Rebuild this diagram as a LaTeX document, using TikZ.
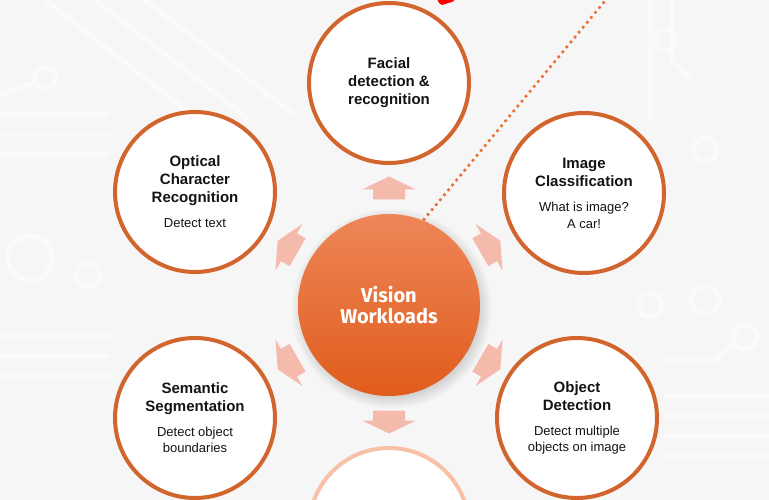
\documentclass[tikz,border=0pt]{standalone}
\usepackage{fontspec}
\setmainfont{Liberation Sans}
\newfontfamily\visionfont{Fira Sans}
\usepackage{tikz}
\usetikzlibrary{positioning,shadows,calc}

\definecolor{ringorange}{RGB}{210,101,45}
\definecolor{ringpeach}{RGB}{246,193,167}
\definecolor{arrowpink}{RGB}{244,187,172}
\definecolor{bggrey}{RGB}{246,246,246}
\definecolor{visiontop}{RGB}{238,134,88}
\definecolor{visionbottom}{RGB}{224,92,28}
\definecolor{dotorange}{RGB}{232,112,52}

\newcommand{\wlsub}[1]{{\mdseries\fontsize{13}{15}\selectfont #1}}

\begin{document}
\begin{tikzpicture}[x=1pt,y=-1pt]
                \tikzstyle{workload}=[circle,draw=ringorange,line width=4pt,fill=white,
                    minimum size=160pt,inner sep=0pt,align=center,
                    font=\fontsize{15}{18}\selectfont\bfseries,text=black!92]
                \tikzstyle{trace}=[white,opacity=0.45,line width=5pt]
                \tikzset{blockarrow/.pic={
                    \fill[arrowpink] (-11.5,-16) -- (-1.5,-16) -- (-1.5,-27) -- (11.5,0)
                        -- (-1.5,27) -- (-1.5,16) -- (-11.5,16) -- cycle;}}

                %% Background with faint circuit traces
                \clip (0,0) rectangle (769,500);
                \fill[bggrey] (0,0) rectangle (769,500);
                \begin{scope}[trace]
                    \draw (45,0) -- (205,125);
                    \draw (95,0) -- (250,120);
                    \draw (145,0) -- (295,115);
                    \foreach \y in {115,135,155,335,355,375}
                        \draw (0,\y) -- (110,\y);
                    \draw (0,95) -- (34,83);
                    \draw (45,78) circle (11);
                    \draw (30,258) circle (22);
                    \draw (88,275) circle (12);
                    \draw (650,0) -- (650,120);
                    \draw (672,0) -- (672,60) -- (690,80);
                    \draw (665,40) circle (11);
                    \draw (705,150) circle (12);
                    \draw (705,300) circle (14);
                    \draw (650,305) circle (12);
                    \draw (745,337) circle (12);
                    \draw (733,345) -- (715,360) -- (665,360);
                    \foreach \y in {395,415,435,455}
                        \draw (665,\y) -- (769,\y);
                \end{scope}

                %% Red tip at the top edge
                \fill[red] (437,-1) -- (456,-1) -- (452,2) -- (442,5) -- (439,3) -- cycle;

                %% Centre node
                \node[circle,minimum size=182pt,inner sep=0pt,align=center,
                      top color=visiontop,bottom color=visionbottom,
                      circular drop shadow={shadow xshift=2pt,shadow yshift=-3pt,opacity=0.35},
                      font=\visionfont\bfseries\fontsize{20}{21}\selectfont,text=white]
                      (vision) at (389,305) {Vision\\Workloads};

                % Dotted line leaving the centre
                \coordinate (dotend) at (614,-10);
                \draw[dotorange,line width=2.6pt,dash pattern=on 2.6pt off 3.8pt]
                      (vision.68) -- (dotend);

                %% Block arrows around the centre
                \foreach \a in {30,90,150,210,270,330}
                    \pic[rotate=\a] at ([shift={(\a:117pt)}]vision.center) {blockarrow};

                %% Workload circles
                \node[workload] (facial) at (389,83) {Facial\\detection \&\\recognition};
                \node[workload] (ocr) at (195,192)
                      {Optical\\Character\\Recognition\\[7pt]\wlsub{Detect text}};
                \node[workload] (imgcls) at (584,193)
                      {Image\\Classification\\[7pt]\wlsub{What is image?}\\[-1pt]\wlsub{A car!}};
                \node[workload] (semseg) at (195,418)
                      {Semantic\\Segmentation\\[7pt]\wlsub{Detect object}\\[-2pt]\wlsub{boundaries}};
                \node[workload] (objdet) at (577,418)
                      {Object\\Detection\\[7pt]\wlsub{Detect multiple}\\[-2pt]\wlsub{objects on image}};
                \node[workload,draw=ringpeach] (bottom) at (389,528) {};
\end{tikzpicture}
\end{document}
